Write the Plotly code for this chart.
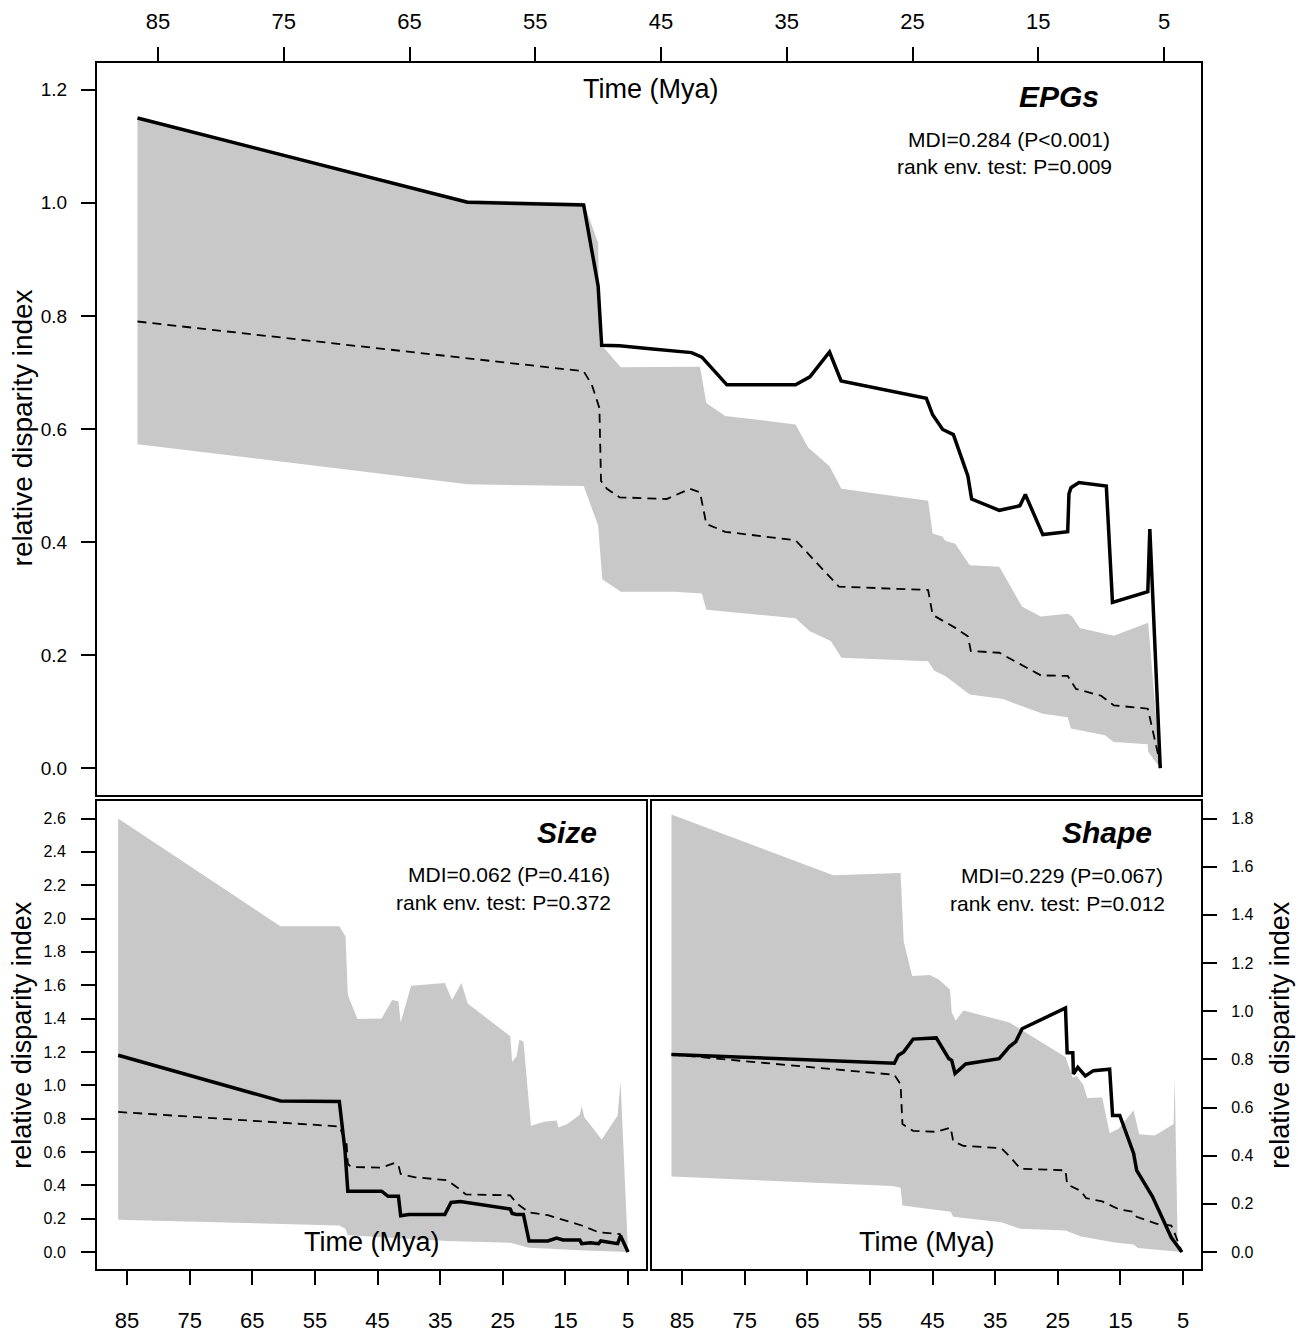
import plotly.graph_objects as go

W, H = 1298, 1333

# ---------------- EPGs (top panel) ----------------
epg_obs_t = [86.63, 60.4, 51.15, 50.0, 49.72, 48.3, 45.88, 42.57, 41.75, 39.76, 34.3, 33.16, 31.6,
             30.68, 23.9, 23.4, 22.6, 21.75, 20.6, 20.3, 18.1, 16.46, 16.03, 14.64, 12.66, 12.56,
             12.4, 11.77, 9.59, 9.1, 6.29, 6.13, 5.3]
epg_obs = [1.150, 1.001, 0.996, 0.853, 0.748, 0.747, 0.742, 0.735, 0.727, 0.678, 0.678, 0.692, 0.736,
           0.685, 0.654, 0.625, 0.599, 0.590, 0.517, 0.476, 0.456, 0.464, 0.484, 0.413, 0.418, 0.485,
           0.496, 0.505, 0.499, 0.293, 0.312, 0.423, 0.0]

epg_med_t = [86.63, 51.15, 50.5, 50.0, 49.9, 49.77, 49.3, 48.3, 44.55, 42.7, 41.9, 41.4, 39.9, 34.3,
             30.86, 23.76, 23.4, 21.6, 20.6, 20.36, 18.1, 14.8, 12.66, 12.0, 10.0, 9.0, 6.29, 5.4, 5.3]
epg_med = [0.790, 0.702, 0.678, 0.645, 0.637, 0.508, 0.494, 0.479, 0.476, 0.494, 0.488, 0.432, 0.418,
           0.403, 0.321, 0.315, 0.271, 0.248, 0.233, 0.207, 0.204, 0.164, 0.163, 0.140, 0.128, 0.111,
           0.105, 0.017, 0.0]

epg_up_t = [86.63, 60.4, 51.15, 50.0, 49.9, 49.72, 48.2, 41.9, 41.4, 39.9, 34.3, 33.3, 31.6, 30.65,
            23.76, 23.4, 22.6, 22.4, 21.6, 20.45, 18.1, 16.3, 14.8, 12.66, 12.3, 11.7, 9.0, 6.26, 5.3]
epg_up = [1.150, 1.005, 1.000, 0.929, 0.752, 0.748, 0.709, 0.710, 0.646, 0.623, 0.608, 0.567, 0.534,
          0.494, 0.473, 0.415, 0.409, 0.402, 0.397, 0.359, 0.356, 0.286, 0.268, 0.273, 0.268, 0.248,
          0.234, 0.257, 0.0]

epg_lo_t = [86.63, 60.4, 51.15, 50.0, 49.67, 48.2, 43.9, 41.75, 41.4, 34.3, 33.16, 31.5, 30.65, 23.76,
            23.27, 22.4, 20.45, 17.8, 14.64, 12.66, 12.4, 9.7, 9.0, 6.3, 6.26, 5.3]
epg_lo = [0.573, 0.502, 0.499, 0.429, 0.334, 0.312, 0.312, 0.309, 0.280, 0.265, 0.242, 0.225, 0.195,
          0.189, 0.172, 0.163, 0.130, 0.122, 0.096, 0.090, 0.070, 0.058, 0.046, 0.042, 0.029, 0.0]

# ---------------- Size (bottom-left) ----------------
size_obs_t = [86.41, 60.5, 51.1, 50.2, 49.74, 44.35, 43.3, 41.66, 41.3, 40.0, 34.26, 33.25, 31.77, 29.2,
              23.8, 23.5, 22.8, 21.7, 20.8, 17.8, 16.4, 15.4, 12.7, 12.4, 11.0, 9.7, 9.35, 6.66, 6.2, 5.0]
size_obs = [1.180, 0.906, 0.902, 0.613, 0.365, 0.365, 0.334, 0.334, 0.217, 0.225, 0.225, 0.297, 0.303,
            0.287, 0.258, 0.231, 0.225, 0.225, 0.066, 0.066, 0.083, 0.072, 0.072, 0.050, 0.056, 0.050,
            0.066, 0.050, 0.097, 0.0]

size_med_t = [86.41, 51.1, 49.94, 49.74, 49.27, 44.35, 42.3, 41.66, 41.3, 39.0, 33.9, 32.2, 30.9, 23.8,
              22.8, 20.8, 17.8, 15.75, 12.4, 9.7, 6.3, 5.66, 5.0]
size_med = [0.840, 0.753, 0.654, 0.530, 0.510, 0.506, 0.534, 0.520, 0.468, 0.448, 0.431, 0.386, 0.345,
            0.340, 0.293, 0.237, 0.221, 0.196, 0.159, 0.118, 0.107, 0.056, 0.0]

size_up_t = [86.41, 60.5, 51.1, 50.1, 49.74, 48.2, 44.35, 42.67, 41.66, 41.3, 39.64, 34.26, 33.1, 31.6,
             30.6, 23.8, 23.5, 22.8, 22.35, 21.7, 20.5, 18.2, 16.4, 16.1, 14.7, 12.7, 12.4, 12.0, 9.2,
             6.66, 6.2, 5.1, 5.0]
size_up = [2.600, 1.954, 1.954, 1.892, 1.541, 1.397, 1.401, 1.511, 1.504, 1.376, 1.597, 1.614, 1.511,
           1.614, 1.490, 1.294, 1.139, 1.174, 1.273, 1.263, 0.757, 0.782, 0.788, 0.747, 0.768, 0.823,
           0.877, 0.809, 0.675, 0.819, 1.026, 0.035, 0.0]

size_lo_t = [86.41, 51.1, 50.1, 49.74, 33.9, 23.8, 20.8, 12.7, 5.0]
size_lo = [0.194, 0.159, 0.138, 0.101, 0.066, 0.056, 0.025, 0.010, 0.0]

# ---------------- Shape (bottom-right) ----------------
shape_obs_t = [86.68, 51.1, 50.46, 49.6, 48.1, 44.4, 42.4, 41.94, 41.4, 39.7, 34.36, 32.7, 31.7, 30.7,
               23.77, 23.5, 22.6, 22.5, 21.8, 20.6, 19.3, 16.72, 16.25, 15.1, 12.9, 12.4, 9.9, 6.87, 5.19]
shape_obs = [0.820, 0.784, 0.817, 0.831, 0.884, 0.889, 0.803, 0.796, 0.741, 0.781, 0.803, 0.853, 0.874,
             0.927, 1.013, 0.827, 0.827, 0.739, 0.767, 0.731, 0.753, 0.759, 0.567, 0.567, 0.410, 0.339,
             0.231, 0.060, 0.0]

shape_med_t = [86.68, 78.3, 51.1, 50.1, 49.8, 48.1, 44.4, 42.1, 41.7, 40.1, 34.0, 32.4, 31.0, 23.77,
               23.5, 21.3, 20.5, 17.9, 15.2, 12.9, 12.4, 9.2, 6.87, 6.5, 5.19]
shape_med = [0.820, 0.800, 0.736, 0.696, 0.531, 0.503, 0.499, 0.517, 0.460, 0.441, 0.431, 0.389, 0.346,
             0.339, 0.281, 0.253, 0.224, 0.210, 0.177, 0.167, 0.146, 0.117, 0.110, 0.089, 0.0]

shape_up_t = [86.68, 60.85, 50.1, 49.6, 48.25, 45.4, 44.0, 42.2, 41.94, 41.3, 40.1, 34.0, 32.7, 23.77,
              22.6, 21.96, 20.95, 20.3, 17.9, 16.72, 15.25, 12.9, 12.0, 9.55, 8.9, 6.5, 6.33, 5.86, 5.19]
shape_up = [1.817, 1.564, 1.574, 1.289, 1.146, 1.150, 1.131, 1.089, 0.996, 0.960, 1.003, 0.960, 0.953,
            0.810, 0.724, 0.731, 0.696, 0.639, 0.641, 0.493, 0.513, 0.589, 0.489, 0.484, 0.493, 0.531,
            0.724, 0.039, 0.0]

shape_lo_t = [86.68, 51.4, 50.1, 49.8, 42.1, 41.7, 34.0, 31.0, 23.77, 21.3, 15.9, 12.9, 12.2, 5.19]
shape_lo = [0.313, 0.274, 0.267, 0.193, 0.167, 0.146, 0.124, 0.096, 0.089, 0.064, 0.039, 0.031, 0.017, 0.0]

x_ticks = [85, 75, 65, 55, 45, 35, 25, 15, 5]
epg_yticks = [0.0, 0.2, 0.4, 0.6, 0.8, 1.0, 1.2]
size_yticks = [round(0.2 * i, 1) for i in range(14)]
shape_yticks = [round(0.2 * i, 1) for i in range(10)]

FONT = "Liberation Sans, Arial, sans-serif"
GREY = "rgb(200,200,200)"

fig = go.Figure()

panels = [
    ("x", "y", epg_up_t, epg_up, epg_lo_t, epg_lo, epg_med_t, epg_med, epg_obs_t, epg_obs),
    ("x2", "y2", size_up_t, size_up, size_lo_t, size_lo, size_med_t, size_med, size_obs_t, size_obs),
    ("x3", "y3", shape_up_t, shape_up, shape_lo_t, shape_lo, shape_med_t, shape_med, shape_obs_t, shape_obs),
]
for xa, ya, ut, uv, lt, lv, mt, mv, ot, ov in panels:
    fig.add_trace(go.Scatter(x=list(ut) + list(lt)[::-1], y=list(uv) + list(lv)[::-1],
                             fill="toself", fillcolor=GREY, line=dict(width=0, color=GREY),
                             mode="lines", xaxis=xa, yaxis=ya, hoverinfo="skip", showlegend=False))
    fig.add_trace(go.Scatter(x=mt, y=mv, mode="lines", line=dict(color="black", width=1.8, dash="9px,6px"),
                             xaxis=xa, yaxis=ya, showlegend=False))
    fig.add_trace(go.Scatter(x=ot, y=ov, mode="lines", line=dict(color="black", width=3.5),
                             xaxis=xa, yaxis=ya, showlegend=False))


def px(x):
    return x / W


def py(y):
    return 1 - y / H


common = dict(showgrid=False, zeroline=False, showline=True, linecolor="black", linewidth=2,
              mirror=True, ticks="outside", ticklen=14, tickwidth=2, tickcolor="black")

fig.update_layout(
    width=W, height=H, margin=dict(l=0, r=0, t=0, b=0),
    paper_bgcolor="white", plot_bgcolor="white", showlegend=False,
    xaxis=dict(domain=[px(97), px(1201)], anchor="y", side="top", range=[89.85, 2.06],
               tickvals=x_ticks, ticktext=[str(v) for v in x_ticks],
               tickfont=dict(family=FONT, size=22, color="black"), ticklabelstandoff=9, **common),
    yaxis=dict(domain=[py(800), py(63)], anchor="x", range=[-0.048, 1.248],
               tickvals=epg_yticks, ticktext=["%.1f" % v for v in epg_yticks],
               tickfont=dict(family=FONT, size=19, color="black"), ticklabelstandoff=10, **common),
    xaxis2=dict(domain=[px(97), px(646)], anchor="y2", side="bottom", range=[89.79, 2.13],
                tickvals=x_ticks, ticktext=[str(v) for v in x_ticks],
                tickfont=dict(family=FONT, size=22, color="black"), ticklabelstandoff=16, **common),
    yaxis2=dict(domain=[py(1277), py(806)], anchor="x2", range=[-0.104, 2.704],
                tickvals=size_yticks, ticktext=["%.1f" % v for v in size_yticks],
                tickfont=dict(family=FONT, size=16, color="black"), ticklabelstandoff=12, **common),
    xaxis3=dict(domain=[px(652), px(1201)], anchor="y3", side="bottom", range=[89.79, 2.13],
                tickvals=x_ticks, ticktext=[str(v) for v in x_ticks],
                tickfont=dict(family=FONT, size=22, color="black"), ticklabelstandoff=16, **common),
    yaxis3=dict(domain=[py(1277), py(806)], anchor="x3", side="right", range=[-0.072, 1.872],
                tickvals=shape_yticks, ticktext=["%.1f" % v for v in shape_yticks],
                tickfont=dict(family=FONT, size=16, color="black"), ticklabelstandoff=11, **common),
)

ann = []


def add_text(text, x, y, size, xanchor="center", angle=0, bold_italic=False):
    if bold_italic:
        text = "<b><i>%s</i></b>" % text
    ann.append(dict(text=text, x=px(x), y=py(y), xref="paper", yref="paper", showarrow=False,
                    xanchor=xanchor, yanchor="middle", textangle=angle,
                    font=dict(family=FONT, size=size, color="black")))


# top panel
add_text("Time (Mya)", 651, 90, 27)
add_text("EPGs", 1059, 97, 30, bold_italic=True)
add_text("MDI=0.284 (P&lt;0.001)", 1112, 140, 21, xanchor="right")
add_text("rank env. test: P=0.009", 1114, 168, 21, xanchor="right")
add_text("relative disparity index", 22, 431, 28, angle=-90)
# size panel
add_text("Size", 567, 838, 30, bold_italic=True)
add_text("MDI=0.062 (P=0.416)", 612, 880, 21, xanchor="right")
add_text("rank env. test: P=0.372", 613, 908, 21, xanchor="right")
add_text("Time (Mya)", 372, 1249, 27)
add_text("relative disparity index", 22, 1041, 27, angle=-90)
# shape panel
add_text("Shape", 1107, 838, 30, bold_italic=True)
add_text("MDI=0.229 (P=0.067)", 1165, 881, 21, xanchor="right")
add_text("rank env. test: P=0.012", 1167, 909, 21, xanchor="right")
add_text("Time (Mya)", 927, 1249, 27)
add_text("relative disparity index", 1280, 1041, 27, angle=-90)

fig.update_layout(annotations=ann)

fig.write_html("out.html")
